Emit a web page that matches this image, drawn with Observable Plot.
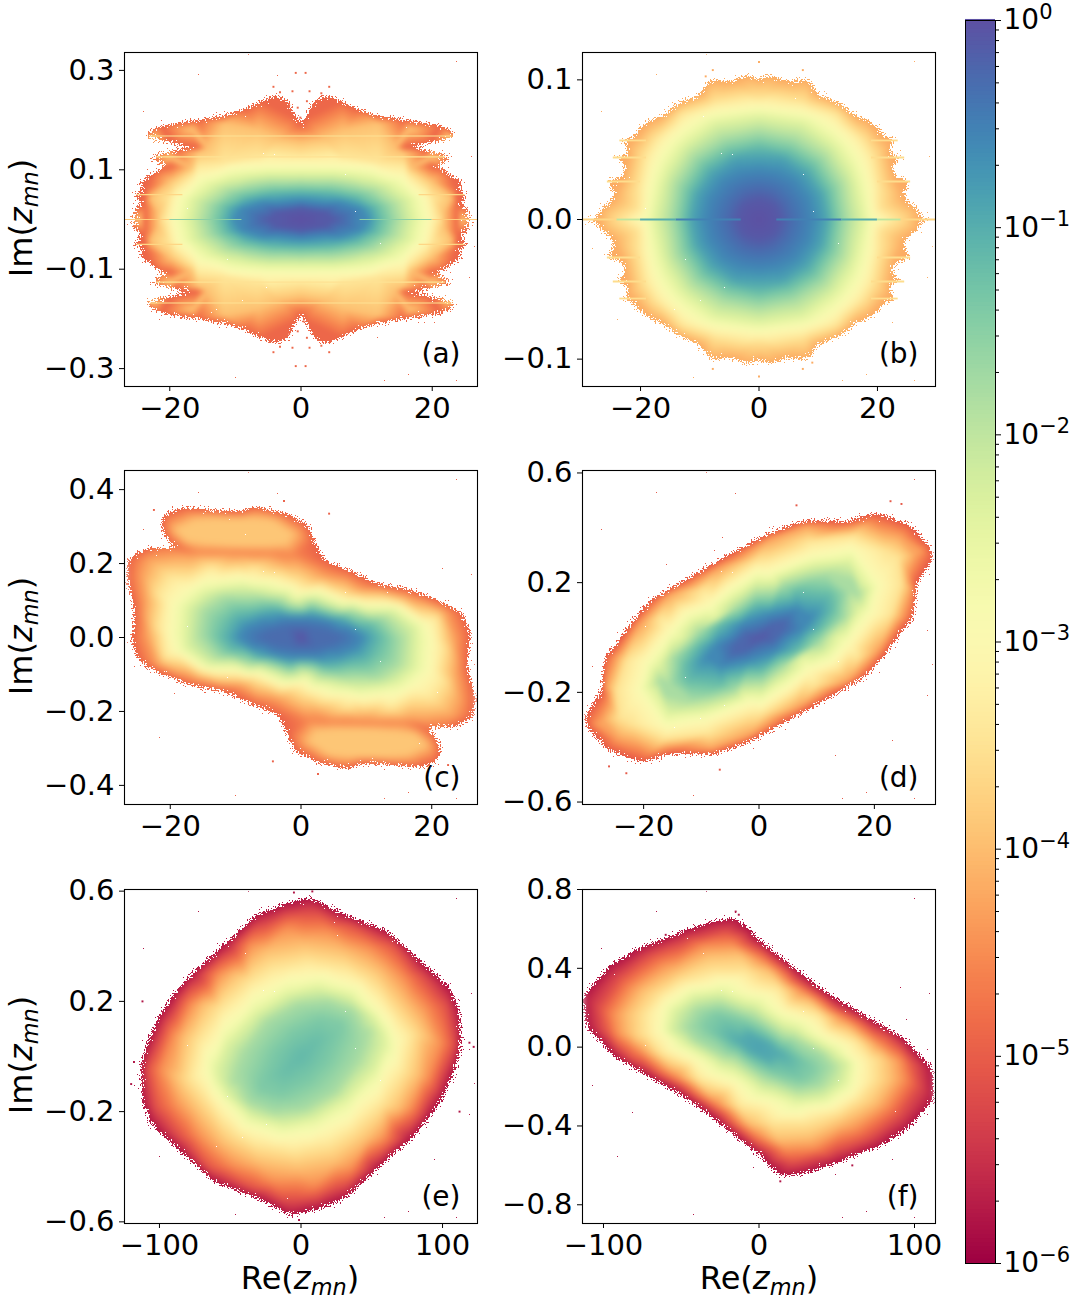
<!DOCTYPE html>
<html><head><meta charset="utf-8">
<script src="https://cdn.jsdelivr.net/npm/d3@7"></script>
<script src="https://cdn.jsdelivr.net/npm/@observablehq/plot@0.6"></script>
<style>
html,body{margin:0;padding:0;background:#fff}
#page{position:relative;width:1076px;height:1304px;overflow:hidden;font-family:"DejaVu Sans",sans-serif;color:#000}
#page>div.p{position:absolute}
.lab{position:absolute;font-size:32px;line-height:1;white-space:nowrap;transform:translate(-50%,-50%)}
.lab.v{transform:translate(-50%,-50%) rotate(-90deg)}
.lab sub{font-size:70%;vertical-align:-0.25em;line-height:0}
svg{max-width:none!important}
</style></head><body>
<svg width="0" height="0" style="position:absolute"><defs>
<filter id="dissolveMask" filterUnits="userSpaceOnUse" x="-30" y="-30" width="600" height="500" color-interpolation-filters="sRGB">
<feGaussianBlur in="SourceAlpha" stdDeviation="3.5" result="ramp"/>
<feTurbulence type="fractalNoise" baseFrequency="0.62" numOctaves="2" seed="7" result="noise"/>
<feComposite in="ramp" in2="noise" operator="arithmetic" k1="0" k2="1" k3="1.35" k4="-1.05" result="sum"/>
<feComponentTransfer in="sum" result="edge"><feFuncA type="discrete" tableValues="0 1 1 1 1 1 1 1"/></feComponentTransfer>
<feFlood flood-color="#fff"/>
<feComposite in2="edge" operator="in"/>
</filter>
</defs></svg>
<div id="page"></div>
<script>
// Tick labels and axis limits of each panel
const xLimA=[-26.9,26.9], yLimA=[-0.336,0.336], xTicksA=[-20,0,20], yTicksA=[-0.3,-0.1,0.1,0.3];
const xLimB=[-29.8,29.8], yLimB=[-0.1196,0.1196], xTicksB=[-20,0,20], yTicksB=[-0.1,0,0.1];
const xLimC=[-27,27], yLimC=[-0.4517,0.4517], xTicksC=[-20,0,20], yTicksC=[-0.4,-0.2,0,0.2,0.4];
const xLimD=[-30.6,30.6], yLimD=[-0.609,0.609], xTicksD=[-20,0,20], yTicksD=[-0.6,-0.2,0.2,0.6];
const xLimE=[-124.7,124.7], yLimE=[-0.606,0.606], xTicksE=[-100,0,100], yTicksE=[-0.6,-0.2,0.2,0.6];
const xLimF=[-113.5,113.5], yLimF=[-0.895,0.8], xTicksF=[-100,0,100], yTicksF=[-0.8,-0.4,0,0.4,0.8];
const panelNames=["(a)","(b)","(c)","(d)","(e)","(f)"];

// Density levels (log10) and the outlines read for them. Panels a, b: upper-right quadrant of each outline.
const levelsA=[-4.9,-3.95,-3.45,-3,-2.4,-1.8,-1.2,-0.6,-0.12];
const peakA=-0.02;
const outlinesA=[
[26.9,.002,23.9,.005,26.2,.016,23.9,.031,25.8,.05,23.6,.061,25,.074,22.9,.088,21.8,.101,19.8,.108,23.6,.126,19.3,.138,15.7,.145,19.8,.155,24.1,.168,21.3,.189,15.7,.2,11.7,.209,8.6,.222,6.1,.238,4,.25,2,.24,.8,.205,0,.19],
[24.4,.001,21.8,.014,22.9,.044,19.8,.078,16.7,.105,19.8,.125,15.7,.135,14.2,.144,22.8,.168,16.7,.182,11.7,.192,6.6,.179,3.5,.162,0,.155],
[21,0,20,.044,16.5,.09,11.7,.115,6.6,.125,0,.128],
[19.5,0,18.8,.044,15.7,.085,10.6,.105,5.5,.11,0,.111],
[17.2,0,16.5,.04,13.5,.07,8,.088,0,.092],
[14.7,0,14,.03,11,.058,6,.072,0,.075],
[12.2,0,11.5,.025,8.5,.046,4,.056,0,.058],
[9.9,0,9,.02,6,.033,0,.038],
[4.8,0,3.5,.014,0,.021]];
const streaksA=[[0,-20,-9,.03],[0,9,20,.03],[0,-26.9,-20,1.5e-4],[0,20,26.9,1.5e-4],[.168,-23,23,3e-4],[-.168,-23,23,3e-4],[.126,-22,22,3e-4],[-.126,-22,22,3e-4],[.05,-25,-18,2e-4],[.05,18,25,2e-4],[-.05,-25,-18,2e-4],[-.05,18,25,2e-4]];
const straysA=[[-.8,.295],[.7,.295],[-4.2,.267],[4.3,.267],[-3.2,.256],[-1.3,.258],[1.3,.258],[3.1,.254],[-.8,-.295],[.7,-.295],[-4.2,-.267],[4.3,-.267],[-3.2,-.256],[-1.3,-.258],[1.3,-.258],[3.1,-.254],[-.1,.205],[.4,-.205],[-1.8,.23],[1.9,.225],[-.5,.225],[.9,.238],[-1.8,-.23],[1.9,-.225],[-.5,-.225],[.9,-.238]];

const levelsB=[-4.2,-3.5,-3,-2.4,-1.8,-1.2,-0.9,-0.6,-0.3,-0.1];
const peakB=-0.02;
const outlinesB=[
[29.7,.0005,27.1,.002,26.9,.0069,24.9,.0129,24.3,.0177,25.6,.0272,22.9,.0308,22.4,.0392,24.6,.0444,22.1,.0464,22.1,.0535,23.5,.0566,20.4,.0607,20.7,.0643,18.1,.0714,16.4,.0738,13.6,.0834,10,.0894,8.3,.1001,4.6,.0989,1.8,.1037,0,.1001],
[23.5,0,20.4,.008,20.4,.0225,19.3,.046,17.6,.058,13.1,.076,7.4,.0846,0,.087],
[20.4,0,18.7,.0225,17,.0464,13.1,.0655,7.4,.0774,0,.081],
[17.6,0,16.4,.0249,13.1,.0511,7.4,.0691,0,.0738],
[14.8,0,13.9,.025,11,.045,6,.058,0,.063],
[12.5,0,11.7,.02,9,.038,5,.048,0,.0523],
[11.4,0,10.5,.018,8,.033,4,.044,0,.045],
[9.1,0,8.3,.015,6,.028,3,.034,0,.0356],
[5.5,0,4.5,.012,2.5,.02,0,.0225],
[3.5,0,2.5,.01,0,.014]];
const streaksB=[[0,3,14,.3],[0,-14,-3,.3],[0,14,20,.1],[0,-20,-14,.1],[0,20,24,.01],[0,-24,-20,.01],[0,24,29.8,2e-4],[0,-29.8,-24,2e-4],[.0566,19,23.5,2.5e-4],[.0566,-23.5,-19,2.5e-4],[-.0566,19,23.5,2.5e-4],[-.0566,-23.5,-19,2.5e-4],[.0444,19,24.6,2.5e-4],[.0444,-24.6,-19,2.5e-4],[-.0444,19,24.6,2.5e-4],[-.0444,-24.6,-19,2.5e-4],[.0272,20,25.6,2.5e-4],[.0272,-25.6,-20,2.5e-4],[-.0272,20,25.6,2.5e-4],[-.0272,-25.6,-20,2.5e-4]];
const straysB=[[0,.1128],[-7.8,.107],[7.4,.107],[-9,.1025],[0,-.1125],[-7.8,-.107],[7.4,-.107],[9,-.1025]];

// Panels c to f: one half of each outline, the picture repeats it turned by 180 degrees.
const levelsC=[-4.95,-4.3,-3.5,-3,-2.4,-1.8,-1.2,-0.9,-0.6,-0.3];
const peakC=-0.02;
const outlinesC=[
[-25.8,.0045,-25.5,.081,-26.7,.162,-26.3,.216,-23.8,.241,-18.7,.241,-20.5,.265,-21.5,.306,-20.7,.337,-18.2,.351,-9.7,.34,-6.7,.355,-2.1,.335,1,.306,2.1,.261,3.5,.209,7.1,.184,11.7,.146,16.8,.13,21.9,.094,24.9,.063,25.9,.009],
[-23.5,.009,-23.8,.099,-24.3,.171,-23.3,.211,-16.4,.22,-7.2,.216,-2.1,.202,3.5,.166,9.1,.13,15.8,.112,21.9,.072,23.5,-.007],
[-22,.027,-22,.117,-20.2,.166,-13.8,.193,-7.2,.189,-.6,.153,6.6,.117,15.3,.094,20.9,.054,21.9,-.027],
[-20,.009,-19.7,.09,-17.4,.13,-12.8,.157,-7.7,.157,-.6,.121,6.6,.099,15.3,.081,19.3,.036,20.1,-.009],
[-17.7,.004,-17.4,.081,-14.8,.121,-8.7,.139,-.6,.099,6.6,.081,14.2,.072,17.6,.027,17.7,-.004],
[-15.4,.004,-14.8,.072,-11.8,.108,-6.7,.108,.5,.081,7.6,.072,13.2,.045,15.3,-.004],
[-12.3,-.004,-11.3,.045,-7.7,.072,-3.6,.081,1.5,.076,6.6,.058,10.7,.036,12.4,0],
[-10.7,0,-9.2,.045,-4.6,.067,1,.067,6.6,.045,9.6,.018,10.7,0],
[-9.5,0,-8.2,.028,-5.5,.046,-2.5,.055,1,.055,4,.047,7,.03,9.5,0],
[-6,0,-4.5,.016,-2,.026,1,.026,3.5,.018,5.5,.006,6,0]];
const extraLevelsC=[-3.9,-4.6];
const extrasC=[
[-19,.29,-16,.315,-12,.32,-8,.32,-4.5,.315,-1.5,.28,-2.5,.255,-6,.25,-10,.25,-14,.255,-17.5,.265,19,-.29,16,-.315,12,-.32,8,-.32,4.5,-.315,1.5,-.28,2.5,-.255,6,-.25,10,-.25,14,-.255,17.5,-.265],
[-19,.24,-16,.232,-13,.232,-10,.232,-7,.23,-4,.228,-1,.225,19,-.24,16,-.232,13,-.232,10,-.232,7,-.23,4,-.228,1,-.225]];
const straysC=[[-2.6,.369],[4.3,.335],[-22.5,.345],[2.6,-.369],[-4.3,-.335],[22.5,-.345]];

const levelsD=[-5.05,-4.3,-3.5,-3,-2.4,-1.8,-1.2,-0.6,-0.25];
const peakD=-0.1;
const outlinesD=[
[-29.7,-.339,-30.2,-.291,-27.3,-.194,-26.8,-.073,-24.7,-.024,-22.4,.048,-19,.133,-13.8,.2,-5.7,.297,1.8,.382,7.6,.427,15.1,.424,20.3,.455,26.1,.412,29,.345],
[-27.9,-.315,-26.5,-.182,-24.7,-.073,-20.7,.048,-15.5,.158,-6.8,.255,1.8,.358,8.2,.406,16.3,.4,24.4,.37,27.3,.303],
[-24.2,-.291,-24.7,-.194,-23,-.085,-17.2,.073,-9.7,.176,-.5,.279,8.8,.352,16.3,.37,22.1,.315,24.1,.291],
[-21,-.194,-19.5,-.085,-15.5,.024,-8.6,.121,1.8,.242,9.4,.303,16.9,.315,20.6,.206],
[-18.4,-.194,-17.2,-.097,-13.2,0,-7.4,.073,3,.206,9.9,.267,15.7,.279,18,.194],
[-15.5,-.17,-14.9,-.073,-10.3,.024,-3.9,.109,4.2,.194,11.7,.23,16.3,.206,17.2,.158],
[-12.9,-.121,-10.9,-.036,-6.8,.048,-.5,.121,6.5,.17,12.3,.158,12.8,.097],
[-8.8,-.073,-7.4,-.03,-2.8,.048,1.8,.082,6.5,.103,8.9,.073],
[-3.9,-.024,-2.2,.012,2.4,.048,4.2,.055]];
const straysD=[[6.5,.482],[22.8,.497],[24.7,.487],[-23,-.495],[-6.8,-.482],[-26,-.47]];

const levelsE=[-5.8,-5.2,-4.5,-4,-3.5,-3,-2.4,-1.8,-1.4,-1.2];
const peakE=-1.15;
const outlinesE=[
[-113,-.03,-108,.056,-100,.15,-90,.225,-78,.298,-54,.407,-31,.516,-12,.553,7,.577,30,.516,61,.456,87,.335,105,.25,112,.165,113,.04],
[-109,-.041,-99,.068,-90,.153,-69,.274,-47,.383,-24,.48,2,.522,35,.48,66,.407,85,.298,103,.189,108,.032],
[-99,-.053,-90,.08,-78,.189,-59,.298,-36,.407,-10,.468,19,.456,49,.395,73,.286,89,.177,99,.044],
[-90,-.065,-83,.068,-69,.189,-47,.298,-24,.383,2,.407,30,.383,56,.31,75,.189,87,.056],
[-79,-.078,-73,.056,-57,.177,-36,.274,-7,.335,19,.335,45,.286,66,.165,78,.056],
[-66,-.078,-59,.056,-40,.177,-17,.262,7,.292,35,.262,56,.165,68,.056],
[-59,-.078,-53,.044,-33,.153,-10,.225,12,.25,35,.219,52,.141,60,.044],
[-44,-.09,-40,.019,-24,.128,-3,.189,19,.201,37,.165,47,.092,45,.044],
[-28,-.09,-19,.019,-5,.092,14,.135,28,.116],
[-10,-.053,-3,.019,9,.044]];
const straysE=[[-5,.595],[8,.599],[-1.4,-.593],[122,.035],[-120,-.1],[-118,-.02],[119,.05],[-112,.2],[112,-.2]];

const levelsF=[-5.8,-5.2,-4.5,-4,-3.5,-3,-2.4,-1.8,-1.4,-0.95];
const peakF=-0.88;
const outlinesF=[
[-111,.107,-113,.259,-96,.412,-79,.497,-49,.59,-30,.64,-15,.655,-6,.6,-2,.556,24,.395,45,.268,71,.149,93,.047,111,-.105],
[-100,.081,-103,.2,-90,.353,-66,.48,-38,.556,-21,.59,-2,.505,24,.344,50,.2,82,.064,99,-.08],
[-91,.064,-94,.166,-83,.302,-62,.42,-36,.514,-17,.522,3,.437,28,.285,54,.149,78,.014,92,-.08],
[-83,.064,-85,.166,-75,.285,-53,.386,-32,.463,-12,.471,7,.386,33,.234,58,.098,78,-.02,84,-.08],
[-74,.064,-74,.166,-64,.268,-47,.344,-30,.386,-8,.386,13,.302,39,.166,63,.031,73,-.063],
[-64,.081,-62,.2,-49,.285,-30,.319,-8,.285,15,.183,41,.064,60,-.054],
[-58,.081,-55,.183,-42,.259,-25,.276,-2,.217,24,.098,48,-.02,58,-.088],
[-47,.098,-40,.192,-25,.217,-2,.149,22,.047,41,-.037,47,-.097],
[-34,.115,-27,.166,-10,.132,15,.014,33,-.088],
[-12,.031,-6,.064,7,.014,13,-.029]];
const straysF=[[-15,.688],[13.7,-.681],[-13,.672],[-60,.57],[60,-.6]];

const colorbarTicks=[1e-6,1e-5,1e-4,1e-3,1e-2,1e-1,1];
const colorbarMinor=[2,3,4,5,6,7,8,9].flatMap(m=>[1e-6,1e-5,1e-4,1e-3,1e-2,1e-1].map(d=>m*d));
const colorDomain=[1e-6,1];
const expColor={type:"linear",scheme:"Spectral",domain:[-6,0],clamp:true};

const pairs=a=>d3.range(0,a.length,2).map(i=>[a[i],a[i+1]]);
function closeQuad(q){
  const p=pairs(q);
  const q2=p.slice().reverse().filter(d=>d[0]!==0).map(d=>[-d[0],d[1]]);
  const low=p.concat(q2).reverse().filter(d=>d[1]!==0).map(d=>[d[0],-d[1]]);
  return p.concat(q2,low);
}
function closeTurn(h){const p=pairs(h);return p.concat(p.map(d=>[-d[0],-d[1]]));}
let maskCount=0;

function panel({left,top,xLim,yLim,xTicks,yTicks,levels,peak,outlines,close,streaks=[],strays=[],name,blur,extras=[],extraLevels=[],labelDy,streakWidth=1.2}){
  const fw=353,fh=334,mt=14,mb=60,mr=24,marginLeft=110;
  const polys=outlines.map(close);
  const points=[{x:0,y:0,v:peak}];
  polys.forEach((poly,i)=>poly.forEach(d=>points.push({x:d[0],y:d[1],v:levels[i]})));
  extras.forEach((e,j)=>pairs(e).forEach(d=>points.push({x:d[0],y:d[1],v:extraLevels[j]})));
  const marks=[
    Plot.raster(points,{x:"x",y:"y",fill:"v",interpolate:"barycentric",pixelSize:1,clip:"frame"})
  ];
  if(strays.length) marks.push(Plot.dot(strays,{x:"0",y:"1",symbol:"square",r:1.1,fill:()=>levels[0],stroke:"none",clip:"frame"}));
  if(streaks.length) marks.push(Plot.ruleY(streaks,{y:"0",x1:"1",x2:"2",stroke:d=>Math.log10(d[3]),strokeWidth:streakWidth,clip:"frame"}));
  marks.push(
    Plot.frame({stroke:"#000",strokeWidth:1.1}),
    Plot.axisX({ticks:xTicks,tickFormat:d3.format("d"),tickSize:5,tickPadding:6,label:null,fontSize:29}),
    Plot.axisY({ticks:yTicks,tickFormat:d3.format(".1f"),tickSize:5,tickPadding:5,label:null,fontSize:29}),
    Plot.text([name],{text:d=>d,frameAnchor:"bottom-right",dx:-17,dy:labelDy,fontSize:28})
  );
  const svg=Plot.plot({width:marginLeft+fw+mr,height:mt+fh+mb,marginLeft,marginRight:mr,marginTop:mt,marginBottom:mb,
    x:{domain:xLim,label:null},y:{domain:yLim,label:null},color:expColor,
    style:{fontFamily:"DejaVu Sans",background:"transparent",overflow:"visible"},marks});
  // the field stops at the outermost outline, whose edge breaks up into single cells
  const sx=svg.scale("x"), sy=svg.scale("y");
  const id="fieldMask"+(maskCount++);
  const path=d3.line().x(d=>sx.apply(d[0])).y(d=>sy.apply(d[1]))(polys[0])+"Z";
  const defs=d3.select(svg).append("defs");
  const mask=defs.append("mask").attr("id",id).attr("maskUnits","userSpaceOnUse").attr("x",0).attr("y",0).attr("width",marginLeft+fw+mr).attr("height",mt+fh+mb);
  mask.append("path").attr("d",path).attr("fill","#fff").attr("filter","url(#dissolveMask)");
  const image=svg.querySelector("image");
  image.setAttribute("filter",`blur(${blur}px)`);
  const wrap=document.createElementNS("http://www.w3.org/2000/svg","g");
  wrap.setAttribute("mask",`url(#${id})`);
  image.parentNode.insertBefore(wrap,image); wrap.appendChild(image);
  const d=document.createElement("div");d.className="p";
  d.style.left=(left-marginLeft)+"px";d.style.top=(top-mt)+"px";d.appendChild(svg);
  document.getElementById("page").appendChild(d);
}

const colLeft=[124.4,582.4], rowTop=[51.5,469.5,888.5];
panel({left:colLeft[0],top:rowTop[0],xLim:xLimA,yLim:yLimA,xTicks:xTicksA,yTicks:yTicksA,levels:levelsA,peak:peakA,outlines:outlinesA,close:closeQuad,streaks:streaksA,strays:straysA,name:panelNames[0],blur:2,labelDy:-24});
panel({left:colLeft[1],top:rowTop[0],xLim:xLimB,yLim:yLimB,xTicks:xTicksB,yTicks:yTicksB,levels:levelsB,peak:peakB,outlines:outlinesB,close:closeQuad,streaks:streaksB,strays:straysB,name:panelNames[1],blur:3,labelDy:-24,streakWidth:1.8});
panel({left:colLeft[0],top:rowTop[1],xLim:xLimC,yLim:yLimC,xTicks:xTicksC,yTicks:yTicksC,levels:levelsC,peak:peakC,outlines:outlinesC,close:closeTurn,strays:straysC,name:panelNames[2],blur:3.5,extras:extrasC,extraLevels:extraLevelsC,labelDy:-18});
panel({left:colLeft[1],top:rowTop[1],xLim:xLimD,yLim:yLimD,xTicks:xTicksD,yTicks:yTicksD,levels:levelsD,peak:peakD,outlines:outlinesD,close:closeTurn,strays:straysD,name:panelNames[3],blur:2.5,labelDy:-18});
panel({left:colLeft[0],top:rowTop[2],xLim:xLimE,yLim:yLimE,xTicks:xTicksE,yTicks:yTicksE,levels:levelsE,peak:peakE,outlines:outlinesE,close:closeTurn,strays:straysE,name:panelNames[4],blur:3,labelDy:-18});
panel({left:colLeft[1],top:rowTop[2],xLim:xLimF,yLim:yLimF,xTicks:xTicksF,yTicks:yTicksF,levels:levelsF,peak:peakF,outlines:outlinesF,close:closeTurn,strays:straysF,name:panelNames[5],blur:3,labelDy:-18});

// Colour bar
const barSteps=d3.range(-6,0,0.02);
const barSvg=Plot.plot({width:112,height:1243+24,marginLeft:1,marginRight:81,marginTop:10,marginBottom:14,
  x:{domain:[0,1],axis:null},y:{type:"log",domain:colorDomain,label:null},color:expColor,
  style:{fontFamily:"DejaVu Sans",background:"transparent",overflow:"visible"},
  marks:[
    Plot.rect(barSteps,{x1:0,x2:1,y1:e=>10**e,y2:e=>10**(e+0.025),fill:e=>e}),
    Plot.frame({stroke:"#000",strokeWidth:1}),
    Plot.axisY({anchor:"right",ticks:colorbarMinor,tickSize:3,tickFormat:()=>"",label:null}),
    Plot.axisY({anchor:"right",ticks:colorbarTicks,tickSize:5,tickPadding:3,tickFormat:d=>"10^"+Math.round(Math.log10(d)),label:null,fontSize:28})
  ]});
d3.select(barSvg).selectAll("text").each(function(){
  const m=/^10\^(-?\d)$/.exec(this.textContent); if(!m) return;
  const t=d3.select(this); t.text("10");
  t.append("tspan").attr("dy","-0.5em").attr("font-size","21px").text(m[1].replace("-","\u2212"));
});
const barDiv=document.createElement("div");barDiv.className="p";barDiv.style.left="963.8px";barDiv.style.top="9.5px";barDiv.appendChild(barSvg);
document.getElementById("page").appendChild(barDiv);

// Axis titles
const page=document.getElementById("page");
const mathLabel=(head)=>`${head}(<i>z</i><sub><i>mn</i></sub>)`;
[218,636,1055].forEach(y=>{const e=document.createElement("div");e.className="lab v";e.style.left="21px";e.style.top=y+"px";e.innerHTML=mathLabel("Im");page.appendChild(e);});
[300,759].forEach(x=>{const e=document.createElement("div");e.className="lab";e.style.left=x+"px";e.style.top="1278px";e.innerHTML=mathLabel("Re");page.appendChild(e);});
</script>
</body></html>
